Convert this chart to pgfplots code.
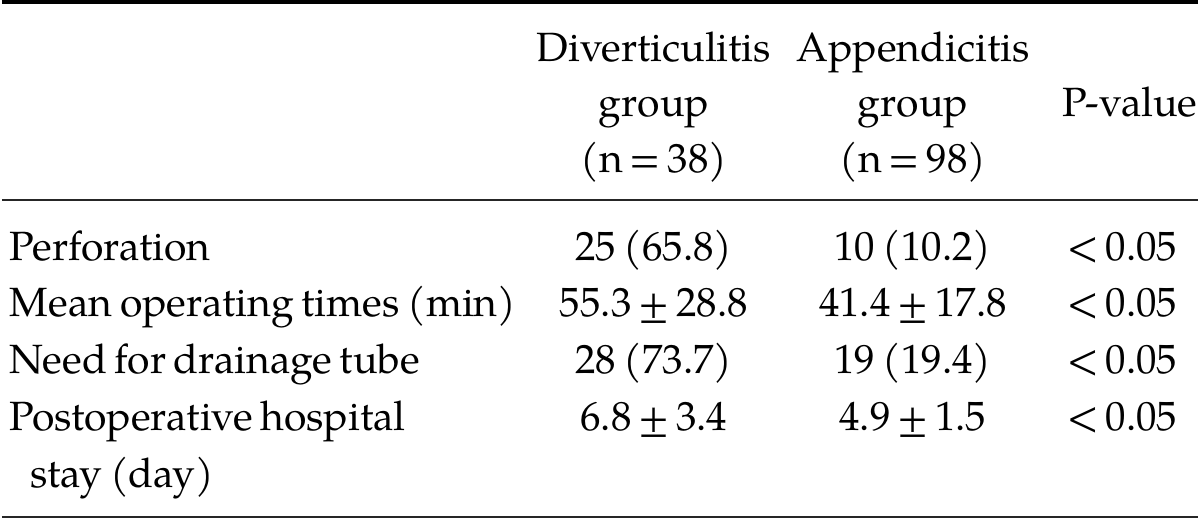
\documentclass[border=0pt]{standalone}
\usepackage{pgfplots}
\pgfplotsset{compat=1.18}
\usepackage{fontspec}
\setmainfont[WordSpace=0.75]{TeX Gyre Pagella}
\newcommand\tf{\fontsize{20.5pt}{24pt}\selectfont}
\tikzset{c/.style={font=\tf, inner sep=0pt, outer sep=0pt, anchor=base},
         l/.style={font=\tf, inner sep=0pt, outer sep=0pt, anchor=base west}}
\begin{document}
\begin{tikzpicture}
\begin{axis}[
  width=600pt, height=260pt, scale only axis,
  xmin=0, xmax=1200, ymin=0, ymax=520, y dir=reverse,
  hide axis, clip=false,
]
% rules
\addplot[black, line width=2pt, forget plot] coordinates {(0,2) (1200,2)};
\addplot[black!85, line width=1pt, forget plot] coordinates {(0,201) (1200,201)};
\addplot[black!85, line width=1.2pt, forget plot] coordinates {(0,518.5) (1200,518.5)};
% header
\node[c] at (axis cs:654,62) {\tf Diverticulitis};
\node[c] at (axis cs:914,62) {\tf Appendicitis};
\node[c] at (axis cs:654,117) {\tf group};
\node[c] at (axis cs:914,117) {\tf group};
\node[c] at (axis cs:1132,117) {\tf P-value};
\node[c] at (axis cs:654,173) {\tf (n\,=\,38)};
\node[c] at (axis cs:914,173) {\tf (n\,=\,98)};
% rows
\node[l] at (axis cs:8,261) {\tf Perforation};
\node[l] at (axis cs:8,318) {\tf Mean operating times (min)};
\node[l] at (axis cs:8,375) {\tf Need for drainage tube};
\node[l] at (axis cs:8,432) {\tf Postoperative hospital};
\node[l] at (axis cs:29,489) {\tf stay (day)};
\node[c] at (axis cs:654,261) {\tf 25 (65.8)};
\node[c] at (axis cs:654,318) {\tf 55.3\,±\,28.8};
\node[c] at (axis cs:654,375) {\tf 28 (73.7)};
\node[c] at (axis cs:654,432) {\tf 6.8\,±\,3.4};
\node[c] at (axis cs:914,261) {\tf 10 (10.2)};
\node[c] at (axis cs:914,318) {\tf 41.4\,±\,17.8};
\node[c] at (axis cs:914,375) {\tf 19 (19.4)};
\node[c] at (axis cs:914,432) {\tf 4.9\,±\,1.5};
\node[c] at (axis cs:1124,261) {\tf <\,0.05};
\node[c] at (axis cs:1124,318) {\tf <\,0.05};
\node[c] at (axis cs:1124,375) {\tf <\,0.05};
\node[c] at (axis cs:1124,432) {\tf <\,0.05};
\end{axis}
\end{tikzpicture}
\end{document}
